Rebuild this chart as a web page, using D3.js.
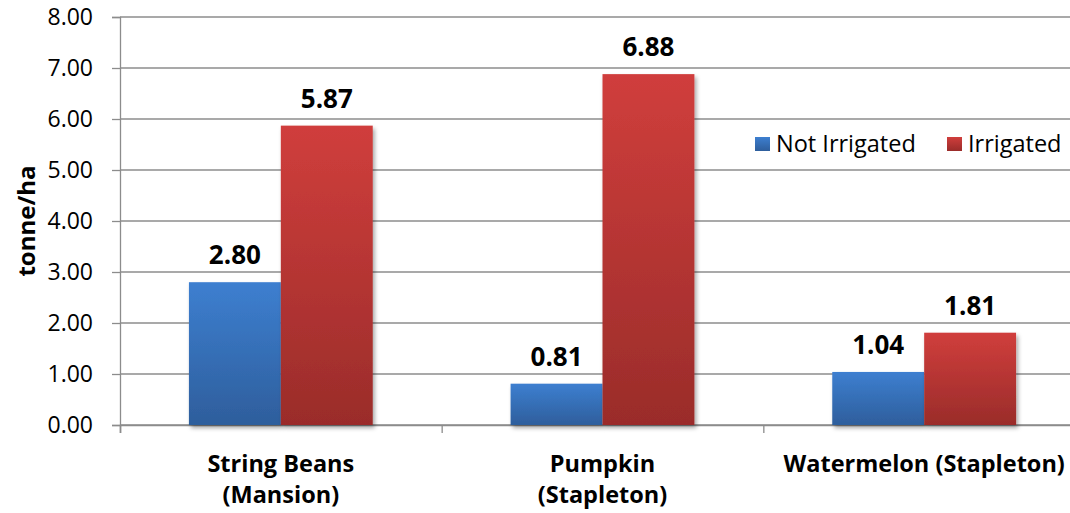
<!DOCTYPE html>
<html>
<head>
<meta charset="utf-8">
<script src="https://cdn.jsdelivr.net/npm/d3@7"></script>
<style>
  html, body { margin: 0; padding: 0; background: #fff; }
  svg { display: block; font-family: "Open Sans", sans-serif; }
</style>
</head>
<body>
<svg id="chart" width="1070" height="513"></svg>
<script>
// Yield by site, tonne/ha
const categories = [["String Beans", "(Mansion)"], ["Pumpkin", "(Stapleton)"], ["Watermelon (Stapleton)"]];
const seriesNames = ["Not Irrigated", "Irrigated"];
const notIrrigated = [2.80, 0.81, 1.04];
const irrigated = [5.87, 6.88, 1.81];
const yTicks = [0, 1, 2, 3, 4, 5, 6, 7, 8];

const svg = d3.select("#chart");
const plot = { left: 120, right: 1085, top: 17, bottom: 425 };

const catKeys = categories.map((c, i) => i);
const x = d3.scaleBand().domain(catKeys).range([plot.left, plot.right]).paddingInner(0).paddingOuter(0);
// Two bars per category, gap width 150% of a bar (75% either side)
const inner = d3.scaleBand().domain(seriesNames).range([0, x.bandwidth()]).paddingInner(0).paddingOuter(0.75);
const y = d3.scaleLinear().domain([0, 8]).range([plot.bottom, plot.top]);

const defs = svg.append("defs");
function grad(id, top, bottom) {
  const g = defs.append("linearGradient").attr("id", id).attr("x1", 0).attr("y1", 0).attr("x2", 0).attr("y2", 1);
  g.append("stop").attr("offset", "0%").attr("stop-color", top);
  g.append("stop").attr("offset", "100%").attr("stop-color", bottom);
}
grad("gBlue", "#3d7fd0", "#2e5e9c");
grad("gRed", "#d03e3c", "#9a2c2a");
const shadow = defs.append("filter").attr("id", "shadow").attr("x", "-10%").attr("y", "-10%").attr("width", "130%").attr("height", "130%");
shadow.append("feDropShadow").attr("dx", 2).attr("dy", 3).attr("stdDeviation", 2.2)
  .attr("flood-color", "#000").attr("flood-opacity", 0.35);

// Gridlines
svg.append("g").selectAll("line").data(yTicks).join("line")
  .attr("x1", plot.left).attr("x2", plot.right)
  .attr("y1", d => y(d)).attr("y2", d => y(d))
  .attr("stroke", "#8c8c8c").attr("stroke-width", 1.3);

// Y axis
const yAxis = svg.append("g").attr("transform", `translate(${plot.left},0)`)
  .call(d3.axisLeft(y).tickValues(yTicks).tickFormat(d3.format(".2f")).tickSize(8).tickPadding(19));
yAxis.select(".domain").attr("stroke", "#8c8c8c").attr("stroke-width", 1.3);
yAxis.selectAll(".tick line").attr("stroke", "#8c8c8c").attr("stroke-width", 1.3);
yAxis.selectAll(".tick text").attr("fill", "#000").style("font-size", "23px").style("font-family", "'Open Sans', sans-serif");

// X axis with tick marks at category boundaries
const boundaries = catKeys.map(k => x(k)).concat([plot.right]);
const xAxis = svg.append("g").attr("transform", `translate(0,${plot.bottom})`)
  .call(d3.axisBottom(d3.scaleLinear().domain([plot.left, plot.right]).range([plot.left, plot.right]))
    .tickValues(boundaries).tickSize(8).tickFormat(""));
xAxis.select(".domain").attr("stroke", "#8c8c8c").attr("stroke-width", 1.6);
xAxis.selectAll(".tick line").attr("stroke", "#8c8c8c").attr("stroke-width", 1.3);

// Bars
const rows = catKeys.map(i => ({ i, vals: [notIrrigated[i], irrigated[i]] }));
const fills = ["url(#gBlue)", "url(#gRed)"];
const groups = svg.append("g").selectAll("g").data(rows).join("g")
  .attr("transform", d => `translate(${x(d.i)},0)`);
groups.selectAll("rect").data(d => d.vals.map((v, s) => ({ v, s }))).join("rect")
  .attr("x", d => inner(seriesNames[d.s]))
  .attr("width", inner.bandwidth())
  .attr("y", d => y(d.v))
  .attr("height", d => y(0) - y(d.v))
  .attr("fill", d => fills[d.s])
  .attr("filter", "url(#shadow)");
groups.selectAll("text.val").data(d => d.vals.map((v, s) => ({ v, s }))).join("text")
  .attr("class", "val")
  .attr("x", d => inner(seriesNames[d.s]) + inner.bandwidth() / 2)
  .attr("y", d => y(d.v) - 18)
  .attr("text-anchor", "middle")
  .style("font-size", "26px").style("font-weight", "bold")
  .text(d => d3.format(".2f")(d.v));

// Category labels
const catLabels = svg.append("g").selectAll("text").data(rows).join("text")
  .attr("x", d => x(d.i) + x.bandwidth() / 2)
  .attr("y", 472)
  .attr("text-anchor", "middle")
  .style("font-size", "23.5px").style("font-weight", "bold");
catLabels.selectAll("tspan").data(d => categories[d.i]).join("tspan")
  .attr("x", function () { return d3.select(this.parentNode).attr("x"); })
  .attr("dy", (d, j) => j === 0 ? 0 : 31)
  .text(d => d);

// Y axis title
svg.append("text")
  .attr("transform", `translate(35,${(plot.top + plot.bottom) / 2}) rotate(-90)`)
  .attr("text-anchor", "middle")
  .style("font-size", "24px").style("font-weight", "bold")
  .text("tonne/ha");

// Legend
const legend = svg.append("g");
const legendItems = [{ name: seriesNames[0], fill: fills[0], x: 755 }, { name: seriesNames[1], fill: fills[1], x: 947 }];
const li = legend.selectAll("g").data(legendItems).join("g")
  .attr("transform", d => `translate(${d.x},137)`);
li.append("rect").attr("width", 15).attr("height", 14).attr("fill", d => d.fill);
li.append("text").attr("x", 21).attr("y", 15)
  .style("font-size", "23.5px").text(d => d.name);
</script>
</body>
</html>
